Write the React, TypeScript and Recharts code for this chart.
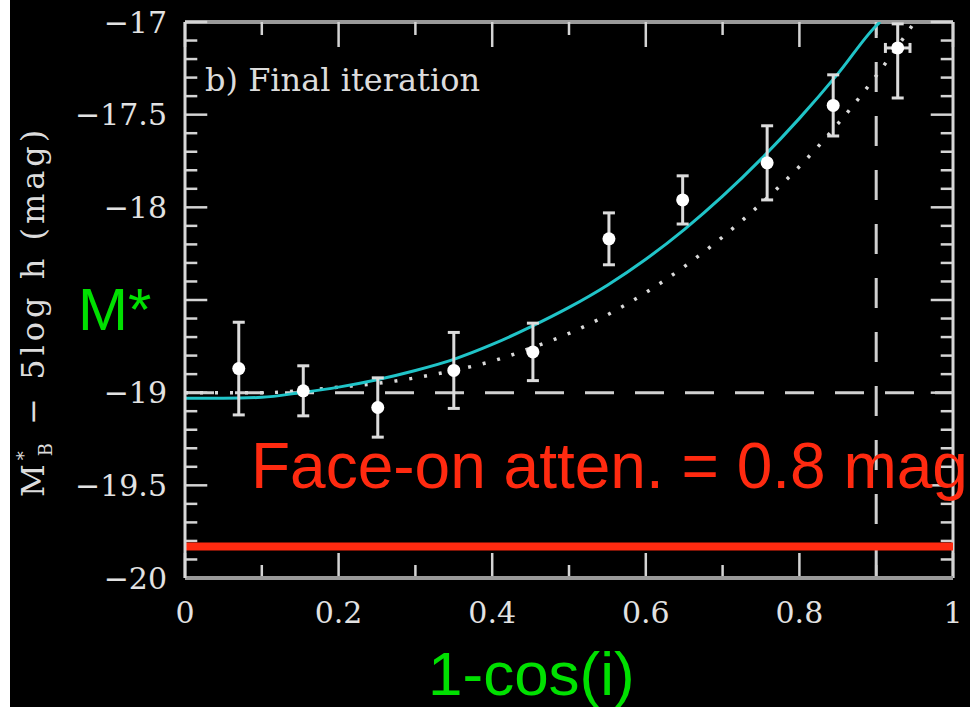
import { ComposedChart, XAxis, YAxis, Line, Scatter, ErrorBar, ReferenceLine } from 'recharts';

// fitted curve (cyan)
const fitX = [0, 0.05, 0.1, 0.15, 0.2, 0.25, 0.3, 0.35, 0.4, 0.45, 0.5, 0.55, 0.6, 0.65, 0.7, 0.75, 0.8, 0.85, 0.9, 0.905];
const fitY = [-19.03, -19.03, -19.025, -19.0, -18.97, -18.93, -18.88, -18.82, -18.74, -18.645, -18.54, -18.42, -18.28, -18.12, -17.94, -17.74, -17.52, -17.28, -17.02, -17.0];

// dotted curve
const dotX = [0, 0.05, 0.1, 0.15, 0.2, 0.25, 0.3, 0.35, 0.4, 0.45, 0.5, 0.55, 0.6, 0.65, 0.7, 0.75, 0.8, 0.85, 0.9, 0.95];
const dotY = [-19.0, -19.0, -19.0, -18.99, -18.97, -18.95, -18.92, -18.88, -18.83, -18.76, -18.68, -18.58, -18.46, -18.32, -18.16, -17.98, -17.78, -17.55, -17.29, -17.0];

// binned data points
const pointX = [0.07, 0.154, 0.251, 0.35, 0.453, 0.552, 0.648, 0.758, 0.844, 0.928];
const pointY = [-18.87, -18.99, -19.08, -18.88, -18.78, -18.17, -17.96, -17.76, -17.45, -17.14];
const pointErrLow = [0.25, 0.135, 0.16, 0.205, 0.155, 0.14, 0.13, 0.2, 0.165, 0.27];
const pointErrHigh = [0.25, 0.135, 0.16, 0.205, 0.155, 0.14, 0.13, 0.2, 0.165, 0.13];
const pointXErr = [0, 0, 0, 0, 0, 0, 0, 0, 0, 0.016];

const xMajor = [0, 0.2, 0.4, 0.6, 0.8, 1];
const xMinor = [0.1, 0.3, 0.5, 0.7, 0.9];
const yMajor = [-20, -19.5, -19, -18.5, -18, -17.5, -17];
const yMinor = [
  -19.9, -19.8, -19.7, -19.6, -19.4, -19.3, -19.2, -19.1,
  -18.9, -18.8, -18.7, -18.6, -18.4, -18.3, -18.2, -18.1,
  -17.9, -17.8, -17.7, -17.6, -17.4, -17.3, -17.2, -17.1,
];

const mStar = -19.0;
const faceOn = -19.83;
const cutoff = 0.9;

// tick lengths in axis units (ticks point into the frame)
const YT_MAJOR = 0.029;
const YT_MINOR = 0.016;
const XT_MAJOR = 0.135;
const XT_MINOR = 0.07;

const TICK_FONT = { fill: '#e2e2e2', fontSize: 30, fontFamily: 'DejaVu Serif' };
const TICK = '#d4d4d4';
const FRAME_H = { stroke: '#9a9a9a', strokeWidth: 4 };
const FRAME_V = { stroke: '#d8d8d8', strokeWidth: 3 };

const fmtY = (v: number) => (v === -18.5 ? '' : String(v).replace('-', '\u2212'));

export default function App() {
  const fit = fitX.map((x, i) => ({ x, y: fitY[i] }));
  const dotted = dotX.map((x, i) => ({ x, y: dotY[i] }));
  const points = pointX.map((x, i) => ({
    x,
    y: pointY[i],
    err: [pointErrLow[i], pointErrHigh[i]],
    xErr: pointXErr[i],
  }));

  const yTicks = [
    ...yMajor.map((v) => ({ v, len: YT_MAJOR })),
    ...yMinor.map((v) => ({ v, len: YT_MINOR })),
  ];
  const xTicks = [
    ...xMajor.map((v) => ({ v, len: XT_MAJOR })),
    ...xMinor.map((v) => ({ v, len: XT_MINOR })),
  ];

  return (
    <div style={{ position: 'absolute', left: 0, top: 0, width: 970, height: 707, background: '#fff' }}>
      <div style={{ position: 'absolute', left: 10, top: 0, width: 960, height: 707, background: '#000' }} />
      <div style={{ position: 'absolute', left: 0, top: 0 }}>
        <ComposedChart width={970} height={707} margin={{ top: 22, right: 17, bottom: 0, left: 0 }}>
          <XAxis type="number" dataKey="x" domain={[0, 1]} ticks={xMajor} interval={0} allowDataOverflow
            height={129} tickSize={-25} tickMargin={49} axisLine={FRAME_H} tickLine={false} tick={TICK_FONT} />
          <YAxis type="number" dataKey="y" domain={[-20, -17]} ticks={yMajor} interval={0} allowDataOverflow
            width={185} tickSize={-22} tickMargin={40} axisLine={FRAME_V} tickLine={false} tick={TICK_FONT}
            tickFormatter={fmtY} />

          {/* top and right frame */}
          <ReferenceLine y={-17} stroke={FRAME_H.stroke} strokeWidth={FRAME_H.strokeWidth} />
          <ReferenceLine x={1} stroke={FRAME_V.stroke} strokeWidth={FRAME_V.strokeWidth} />

          {/* inward ticks on all four sides */}
          {yTicks.map((t) => (
            <ReferenceLine key={`yl${t.v}`} segment={[{ x: 0, y: t.v }, { x: t.len, y: t.v }]} stroke={TICK} strokeWidth={2.5} />
          ))}
          {yTicks.map((t) => (
            <ReferenceLine key={`yr${t.v}`} segment={[{ x: 1 - t.len, y: t.v }, { x: 1, y: t.v }]} stroke={TICK} strokeWidth={2.5} />
          ))}
          {xTicks.map((t) => (
            <ReferenceLine key={`xb${t.v}`} segment={[{ x: t.v, y: -20 }, { x: t.v, y: -20 + t.len }]} stroke={TICK} strokeWidth={2.5} />
          ))}
          {xTicks.map((t) => (
            <ReferenceLine key={`xt${t.v}`} segment={[{ x: t.v, y: -17 - t.len }, { x: t.v, y: -17 }]} stroke={TICK} strokeWidth={2.5} />
          ))}

          <ReferenceLine y={mStar} stroke="#d0d0d0" strokeWidth={3} strokeDasharray="29 21" />
          <ReferenceLine x={cutoff} stroke="#d0d0d0" strokeWidth={3} strokeDasharray="30 24" />

          <Line data={dotted} dataKey="y" type="monotone" stroke="#dadada" strokeWidth={3.5}
            strokeDasharray="3 12" dot={false} isAnimationActive={false} />
          <Line data={fit} dataKey="y" type="monotone" stroke="#20c4c8" strokeWidth={3}
            dot={false} isAnimationActive={false} />

          <Scatter data={points} dataKey="y" isAnimationActive={false}
            shape={(p: any) => <circle cx={p.cx} cy={p.cy} r={6.5} fill="#ffffff" />}>
            <ErrorBar dataKey="err" direction="y" width={6} stroke="#dcdcdc" strokeWidth={3} />
            <ErrorBar dataKey="xErr" direction="x" width={5} stroke="#dcdcdc" strokeWidth={3} />
          </Scatter>

          <ReferenceLine y={faceOn} stroke="#ff2a10" strokeWidth={8} />
        </ComposedChart>
      </div>

      <svg width={970} height={707} style={{ position: 'absolute', left: 0, top: 0, pointerEvents: 'none' }}>
        <text transform="translate(44,497) rotate(-90)" fontFamily="DejaVu Serif" fontSize={32} fill="#dcdcdc" letterSpacing={4}>
          M<tspan fontSize={18} dy={-14}>*</tspan>
          <tspan fontSize={18} dx={-9} dy={22}>B</tspan>
          <tspan dy={-8}> {'\u2212'} 5log h (mag)</tspan>
        </text>
        <text x={205} y={91} fontFamily="DejaVu Serif" fontSize={32} fill="#dcdcdc">b) Final iteration</text>
        <text x={78} y={330} fontFamily="Liberation Sans" fontSize={60} fill="#00e000">M*</text>
        <text x={428} y={695} fontFamily="Liberation Sans" fontSize={62} fill="#00e000">1-cos(i)</text>
        <text x={251} y={488} fontFamily="Liberation Sans" fontSize={64} fill="#ff2a10">Face-on atten. = 0.8 mag</text>
      </svg>
    </div>
  );
}
